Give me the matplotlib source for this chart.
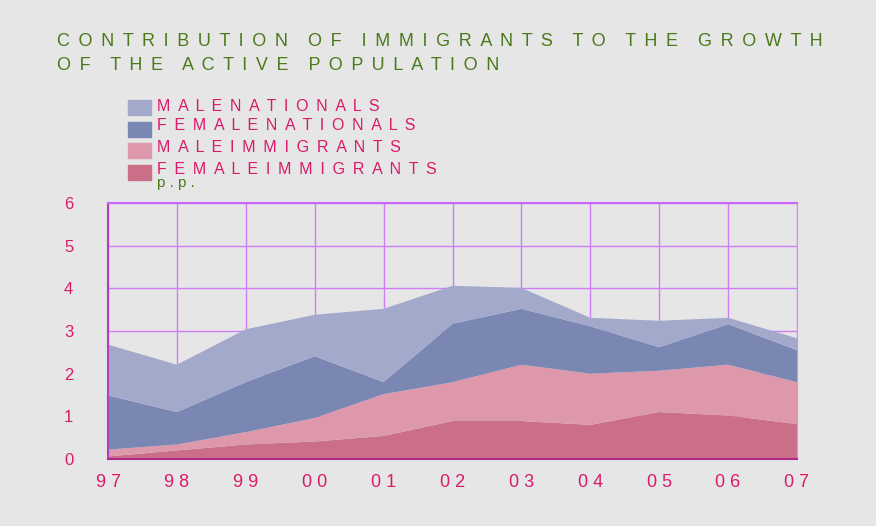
import matplotlib.pyplot as plt
import numpy as np

years = ['97', '98', '99', '00', '01', '02', '03', '04', '05', '06', '07']

# contributions in percentage points (stacked bottom -> top)
female_immigrants = [0.06, 0.20, 0.34, 0.41, 0.54, 0.89, 0.89, 0.80, 1.10, 1.02, 0.82]
male_immigrants = [0.16, 0.14, 0.29, 0.55, 0.98, 0.91, 1.32, 1.20, 0.97, 1.19, 0.98]
female_nationals = [1.27, 0.76, 1.17, 1.45, 0.28, 1.37, 1.31, 1.11, 0.55, 0.95, 0.75]
male_nationals = [1.19, 1.11, 1.24, 0.97, 1.72, 0.89, 0.49, 0.20, 0.62, 0.15, 0.28]

labels = ['MALENATIONALS', 'FEMALENATIONALS', 'MALEIMMIGRANTS', 'FEMALEIMMIGRANTS']
colors = ['#a3a9cb', '#7a87b3', '#de98ab', '#cb6e88']

bg = '#e6e6e6'
green = '#4a7a1a'
pink = '#d81b6b'
grid_col = '#d07cf7'

GAP = ' \u2009'


def spaced(s):
    # wide letter spacing like the original
    return GAP.join(s)


def spaced_words(words):
    return '    '.join(spaced(w) for w in words)


plt.rcParams['font.family'] = ['Liberation Sans', 'DejaVu Sans']

fig = plt.figure(figsize=(8.76, 5.26), dpi=100, facecolor=bg)
ax = fig.add_axes([108 / 876, 1 - 459 / 526, 689 / 876, 256 / 526])
ax.set_facecolor(bg)

x = np.arange(len(years))
ax.stackplot(x, female_immigrants, male_immigrants, female_nationals, male_nationals,
             colors=colors[::-1], linewidth=0, zorder=2)

ax.set_xlim(0, len(years) - 1)
ax.set_ylim(0, 6)
ax.set_xticks(x)
ax.set_xticklabels([' '.join(y) for y in years], color=pink, fontsize=13)
ax.set_yticks(range(7))
ax.set_yticklabels([str(v) for v in range(7)], color=pink, fontsize=12)
ax.tick_params(axis='both', length=0)
ax.tick_params(axis='x', pad=11)
ax.tick_params(axis='y', pad=25)
ax.grid(True, color=grid_col, linewidth=1, zorder=1)
ax.set_axisbelow(True)

ax.spines['left'].set_color('#b040c0')
ax.spines['left'].set_linewidth(1.5)
ax.spines['top'].set_color('#cc66ff')
ax.spines['top'].set_linewidth(1.5)
ax.spines['right'].set_color('#d090f0')
ax.spines['bottom'].set_color('#b02890')
ax.spines['bottom'].set_linewidth(1.5)

# title
fig.text(57 / 876, 1 - 42 / 526,
         spaced_words(['CONTRIBUTION', 'OF', 'IMMIGRANTS', 'TO', 'THE', 'GROWTH']),
         color=green, fontsize=13, va='center', ha='left')
fig.text(57 / 876, 1 - 66 / 526,
         spaced_words(['OF', 'THE', 'ACTIVE', 'POPULATION']),
         color=green, fontsize=13, va='center', ha='left')

# legend
text_y = [106, 126, 147, 170]
patch_y = [107, 129, 151, 172]
for lab, col, ty, py in zip(labels, colors, text_y, patch_y):
    fig.patches.append(plt.Rectangle((128 / 876, 1 - (py + 7.5) / 526), 23 / 876, 15 / 526,
                                     transform=fig.transFigure, color=col))
    fig.text(157 / 876, 1 - ty / 526, spaced(lab), color=pink, fontsize=11.5,
             va='center', ha='left')

fig.text(157 / 876, 1 - 183 / 526, ' '.join('p.p.'), color=green, fontsize=11,
         va='center', ha='left')

fig.savefig('out.png', dpi=100, facecolor=bg)
